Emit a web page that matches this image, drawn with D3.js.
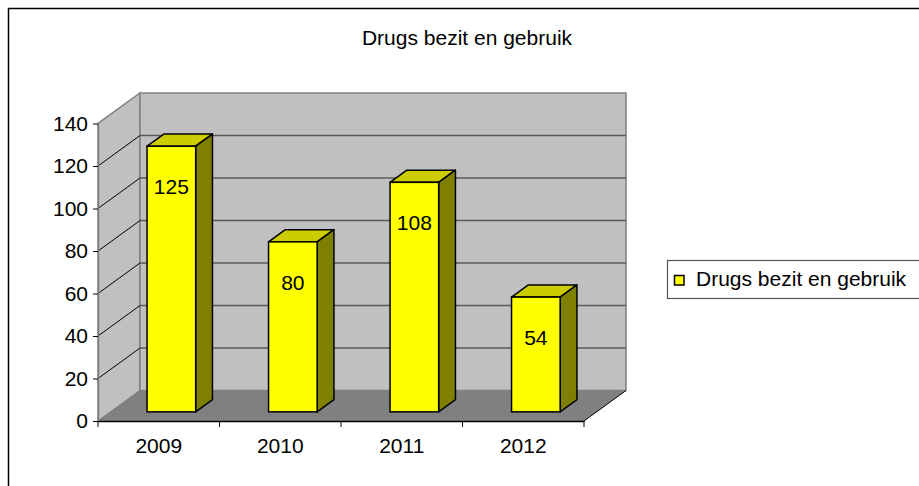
<!DOCTYPE html>
<html>
<head>
<meta charset="utf-8">
<script src="https://cdn.jsdelivr.net/npm/d3@7"></script>
<style>
  body { margin: 0; background: #fff; }
  svg { display: block; font-family: "Liberation Sans", Arial, sans-serif; }
</style>
</head>
<body>
<div id="chart"></div>
<script>
var title = "Drugs bezit en gebruik";
var seriesName = "Drugs bezit en gebruik";
var categories = ["2009", "2010", "2011", "2012"];
var values = [125, 80, 108, 54];
var yTicks = [0, 20, 40, 60, 80, 100, 120, 140];

var w = 919;
var h = 486;
// depth offset of the 3d box (front -> back)
var dx = 42;
var dy = -30.5;
var gapWidth = 1.5;
var gapDepth = 1.5;

var svg = d3.select("#chart")
            .append("svg")
            .attr("width", w)
            .attr("height", h);

var x = d3.scaleBand()
          .domain(categories)
          .range([98, 584])
          .padding(0);

var y = d3.scaleLinear()
          .domain([0, 140])
          .range([421, 123.5]);

function pts(arr) {
  return arr.map(function(p) { return p[0] + "," + p[1]; }).join(" ");
}

// outer chart frame (cut off at right/bottom)
svg.append("rect")
  .attr("x", 8.5)
  .attr("y", 8.5)
  .attr("width", 1000)
  .attr("height", 1000)
  .attr("fill", "none")
  .attr("stroke", "#000")
  .attr("stroke-width", 1.5);

svg.append("text")
  .attr("x", 467)
  .attr("y", 45)
  .attr("text-anchor", "middle")
  .attr("font-size", 21)
  .text(title);

var xl = x.range()[0], xr = x.range()[1];
var yb = y(0), yt = y(140);

// side wall
svg.append("polygon")
  .attr("points", pts([[xl, yb], [xl + dx, yb + dy], [xl + dx, yt + dy], [xl, yt]]))
  .attr("fill", "#c0c0c0")
  .attr("stroke", "#808080")
  .attr("stroke-width", 1.5);

// back wall
svg.append("polygon")
  .attr("points", pts([[xl + dx, yt + dy], [xr + dx, yt + dy], [xr + dx, yb + dy], [xl + dx, yb + dy]]))
  .attr("fill", "#c0c0c0")
  .attr("stroke", "#808080")
  .attr("stroke-width", 1.5);

// floor
svg.append("polygon")
  .attr("points", pts([[xl, yb], [xr, yb], [xr + dx, yb + dy], [xl + dx, yb + dy]]))
  .attr("fill", "#808080")
  .attr("stroke", "none");

svg.append("line")
  .attr("x1", xr).attr("y1", yb)
  .attr("x2", xr + dx).attr("y2", yb + dy)
  .attr("stroke", "#000")
  .attr("stroke-width", 1);

// gridlines
var grid = svg.append("g").attr("id", "grid");

grid.selectAll("line.back")
  .data(yTicks.slice(1, -1))
  .enter()
  .append("line")
  .attr("class", "back")
  .attr("x1", xl + dx)
  .attr("x2", xr + dx)
  .attr("y1", function(d) { return y(d) + dy; })
  .attr("y2", function(d) { return y(d) + dy; })
  .attr("stroke", "#5a5a5a")
  .attr("stroke-width", 1.5);

grid.selectAll("line.side")
  .data(yTicks.slice(1, -1))
  .enter()
  .append("line")
  .attr("class", "side")
  .attr("x1", xl)
  .attr("x2", xl + dx)
  .attr("y1", function(d) { return y(d); })
  .attr("y2", function(d) { return y(d) + dy; })
  .attr("stroke", "#000")
  .attr("stroke-width", 1);

// value axis
var yAxis = svg.append("g")
  .attr("transform", "translate(" + xl + ",0)")
  .call(d3.axisLeft(y).tickValues(yTicks).tickSize(5).tickPadding(5).tickSizeOuter(0));

yAxis.select(".domain").attr("stroke", "#808080").attr("stroke-width", 1.5);
yAxis.selectAll(".tick line").attr("stroke", "#000");
yAxis.selectAll(".tick text")
  .attr("font-size", 21)
  .attr("font-family", "Liberation Sans, Arial, sans-serif")
  .attr("fill", "#000")
  .attr("dy", "0.33em");

// category axis
var xAxis = svg.append("g")
  .attr("transform", "translate(0," + yb + ")")
  .call(d3.axisBottom(x).tickSize(0).tickPadding(17));

xAxis.select(".domain").attr("stroke", "#000").attr("stroke-width", 1.5);
xAxis.selectAll(".tick text")
  .attr("font-size", 21)
  .attr("font-family", "Liberation Sans, Arial, sans-serif")
  .attr("fill", "#000");

var bounds = categories.map(function(c) { return x(c); }).concat([xr]);
xAxis.selectAll("line.bound")
  .data(bounds)
  .enter()
  .append("line")
  .attr("class", "bound")
  .attr("x1", function(d) { return d; })
  .attr("x2", function(d) { return d; })
  .attr("y1", 0)
  .attr("y2", 6)
  .attr("stroke", "#000");

// bars
var barW = x.bandwidth() / (1 + gapWidth);
var depthFrac = 1 / (1 + gapDepth);
var frontFrac = (1 - depthFrac) / 2;
var bdx = dx * depthFrac, bdy = dy * depthFrac;

var bars = svg.append("g")
  .attr("id", "bars")
  .selectAll("g")
  .data(values)
  .enter()
  .append("g")
  .attr("id", function(d, i) { return "bar" + i; });

function bx(d, i) {
  return x(categories[i]) + frontFrac * dx + (x.bandwidth() - barW) / 2;
}
function by0() { return y(0) + frontFrac * dy; }
function by1(d) { return y(d) + frontFrac * dy; }

bars.append("polygon")
  .attr("points", function(d, i) {
    var l = bx(d, i), t = by1(d);
    return pts([[l, t], [l + bdx, t + bdy], [l + barW + bdx, t + bdy], [l + barW, t]]);
  })
  .attr("fill", "#cccc00")
  .attr("stroke", "#000")
  .attr("stroke-width", 1.5)
  .attr("stroke-linejoin", "round");

bars.append("polygon")
  .attr("points", function(d, i) {
    var r = bx(d, i) + barW, t = by1(d), b = by0();
    return pts([[r, t], [r + bdx, t + bdy], [r + bdx, b + bdy], [r, b]]);
  })
  .attr("fill", "#808000")
  .attr("stroke", "#000")
  .attr("stroke-width", 1.5)
  .attr("stroke-linejoin", "round");

bars.append("rect")
  .attr("x", function(d, i) { return bx(d, i); })
  .attr("y", function(d) { return by1(d); })
  .attr("width", barW)
  .attr("height", function(d) { return by0() - by1(d); })
  .attr("fill", "#ffff00")
  .attr("stroke", "#000")
  .attr("stroke-width", 1.5);

bars.append("text")
  .attr("x", function(d, i) { return bx(d, i) + barW / 2; })
  .attr("y", function(d) { return by1(d) + 48; })
  .attr("text-anchor", "middle")
  .attr("font-size", 21)
  .text(function(d) { return d; });

// legend
var legend = svg.append("g").attr("id", "legend");

legend.append("rect")
  .attr("x", 667.5)
  .attr("y", 260.5)
  .attr("width", 300)
  .attr("height", 38)
  .attr("fill", "#fff")
  .attr("stroke", "#555")
  .attr("stroke-width", 1.2);

legend.append("rect")
  .attr("x", 674.5)
  .attr("y", 275.5)
  .attr("width", 9.5)
  .attr("height", 9.5)
  .attr("fill", "#ffff00")
  .attr("stroke", "#000")
  .attr("stroke-width", 1.5);

legend.append("text")
  .attr("x", 696)
  .attr("y", 286)
  .attr("font-size", 21)
  .text(seriesName);
</script>
</body>
</html>
